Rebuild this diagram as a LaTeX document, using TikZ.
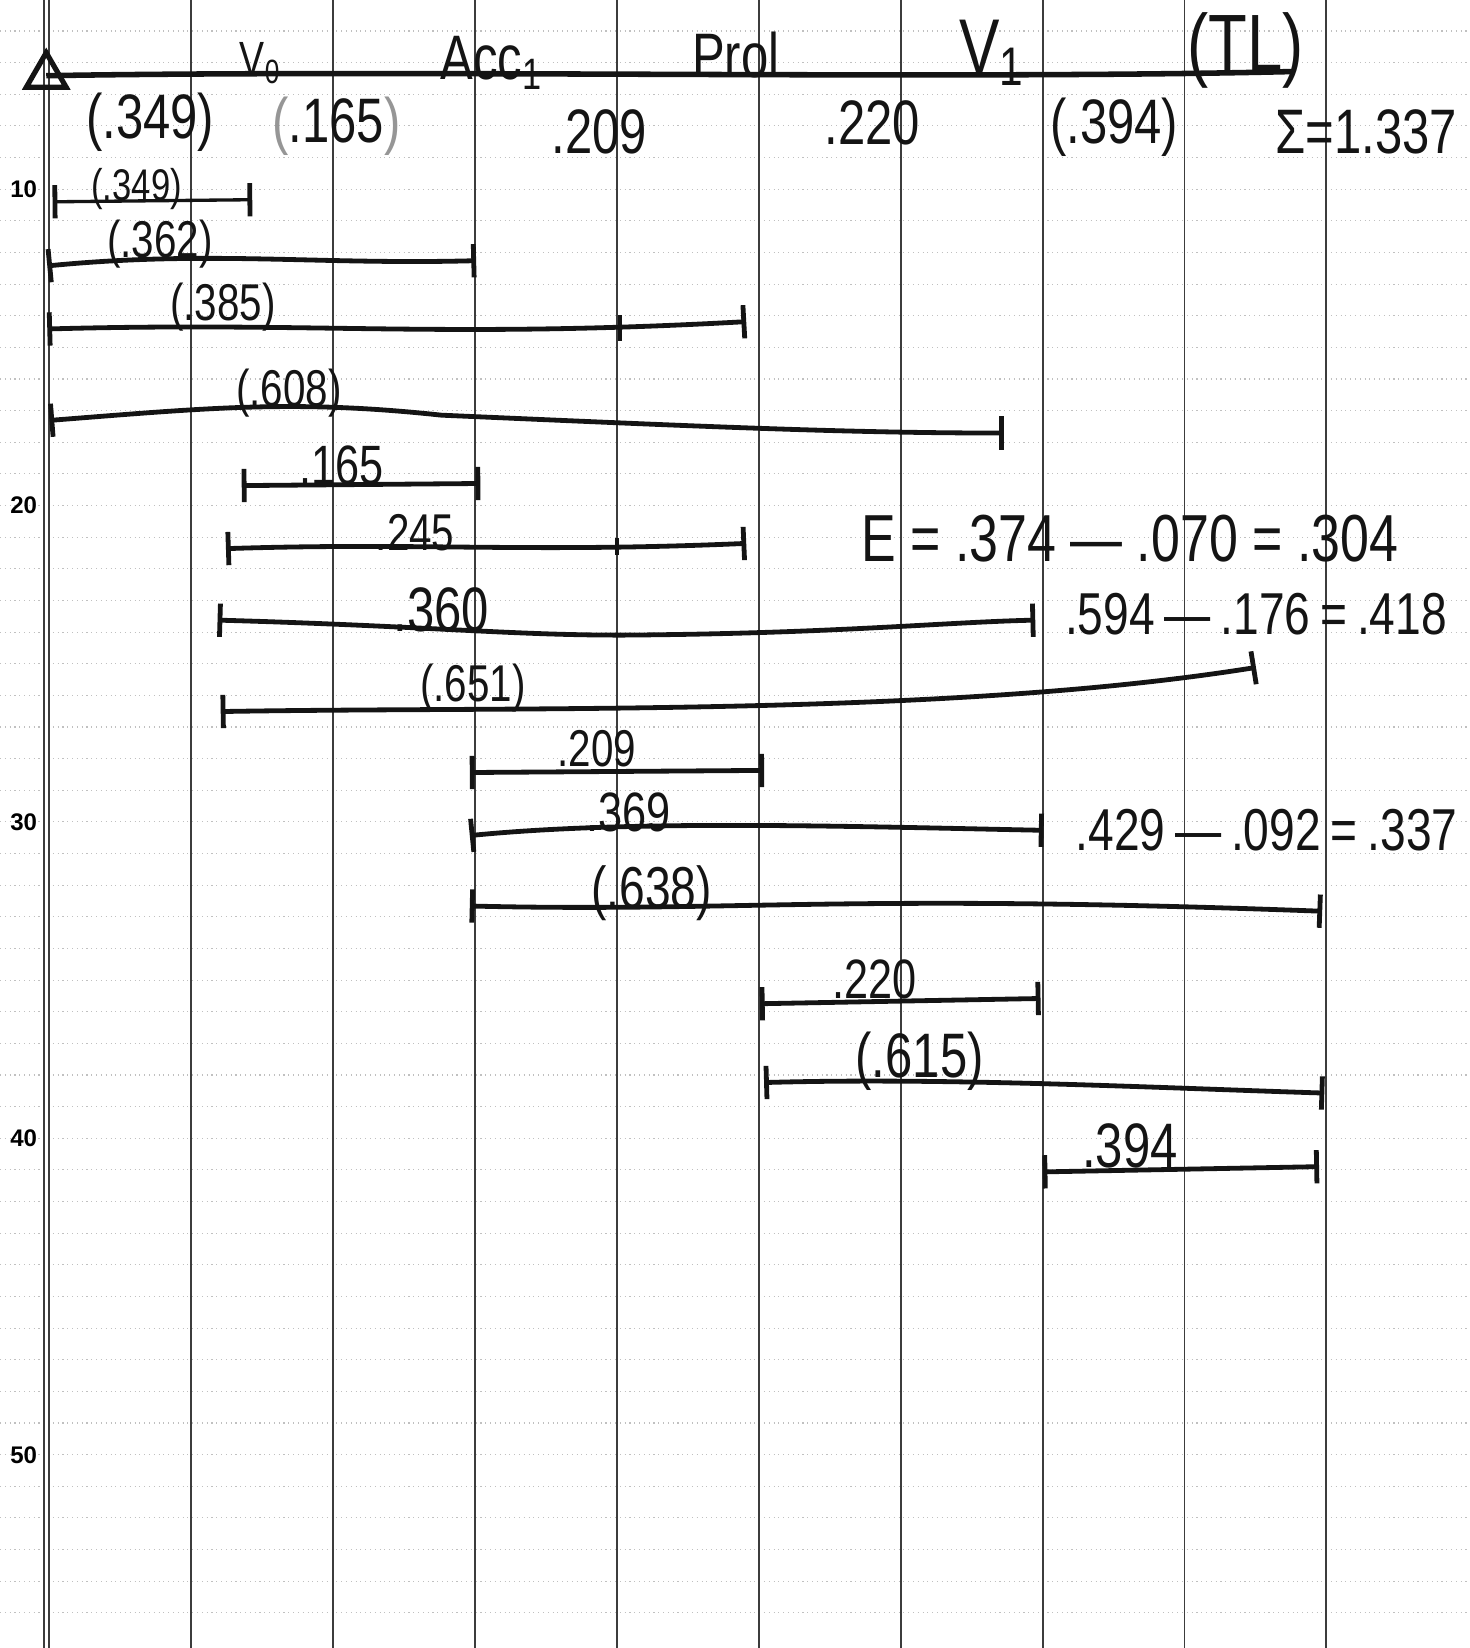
\documentclass[tikz,border=0pt]{standalone}
\usepackage{fontspec}
\setmainfont[FakeStretch=0.78]{Liberation Sans}
\setsansfont{Liberation Sans}
\definecolor{inkblack}{RGB}{20,20,20}
\definecolor{rulegray}{RGB}{150,150,150}
\definecolor{gridblack}{RGB}{60,60,60}
\usetikzlibrary{arrows.meta,positioning,shapes.geometric,calc}

\begin{document}
\begin{tikzpicture}[x=0.01cm, y=-0.01cm,
  span/.style={draw=inkblack, line width=1.3pt, {Bar[width=9pt,line width=1.3pt]}-{Bar[width=9pt,line width=1.3pt]}},
  val/.style={inner sep=1pt, text=inkblack, font=\fontsize{17}{17}\selectfont},
  lbl/.style={inner sep=1pt, text=inkblack, font=\fontsize{14}{14}\selectfont},
  eqn/.style={inner sep=1pt, text=inkblack, font=\fontsize{16}{16}\selectfont},
  rownum/.style={inner sep=0pt, font=\sffamily\fontsize{6.5}{6.5}\selectfont\bfseries}
]
  \useasboundingbox (0,0) rectangle (1398,1568);
  \fill[white] (0,0) rectangle (1398,1568);

  % ruled paper
  \foreach \r in {5,...,55}
    \draw[rulegray!60, densely dotted, line width=0.3pt] (0,{180+(\r-10)*30.1}) -- (1398,{180+(\r-10)*30.1});
  \foreach \c in {42,47}
    \draw[gridblack, line width=0.5pt] (\c,0) -- (\c,1568);
  \foreach \k in {0,...,8}
    \draw[gridblack, line width=0.5pt] ({182+135*\k},0) -- ({182+135*\k},1568);
  \foreach \r/\ry in {10/180,20/481,30/782,40/1083,50/1385}
    \node[rownum, anchor=east] (row\r) at (36,\ry) {\r};

  % time line
  \node[draw=inkblack, regular polygon, regular polygon sides=3, inner sep=2.2pt, line width=1.4pt] (origin) at (44,72) {};
  \coordinate (tlend) at (1232,68);
  \draw[inkblack, line width=1.5pt] (origin.center) .. controls (400,66) and (900,76) .. (tlend);
  \node[lbl, font=\fontsize{13}{13}\selectfont] (v0) at (248,60) {V\textsubscript{0}};
  \node[val] (acc) at (468,60) {Acc\textsubscript{1}};
  \node[val] (prol) at (700,52) {Prol};
  \node[val, font=\fontsize{21}{21}\selectfont] (v1) at (944,50) {V\textsubscript{1}};
  \node[val, font=\fontsize{22}{22}\selectfont] (tl) at (1185,48) {(TL)};

  % segment values
  \node[val] (s1) at (143,116) {(.349)};
  \node[val] (s2) at (320,120) {\textcolor{rulegray}{(}.165\textcolor{rulegray}{)}};
  \node[val] (s3) at (570,125) {.209};
  \node[val] (s4) at (830,117) {.220};
  \node[val] (s5) at (1060,121) {(.394)};
  \node[val] (sum) at (1300,125) {Σ=1.337};

  % spans from V0
  \coordinate (a1) at (50,192);  \coordinate (b1) at (240,190);
  \draw[span, line width=0.9pt] (a1) -- (b1);
  \node[lbl, font=\fontsize{12}{12}\selectfont] (n1) at (130,180) {(.349)};

  \coordinate (a2) at (45,253);  \coordinate (b2) at (453,248);
  \draw[span] (a2) .. controls (200,238) and (300,252) .. (b2);
  \node[lbl] (n2) at (152,232) {(.362)};

  \coordinate (a3) at (45,313);  \coordinate (b3) at (710,306);
  \draw[span] (a3) .. controls (300,306) and (420,322) .. (b3);
  \draw[inkblack, line width=0.9pt] (590,300) -- (590,324);
  \node[lbl] (n3) at (212,292) {(.385)};

  \coordinate (a4) at (47,400);  \coordinate (b4) at (955,412);
  \draw[span] (a4) .. controls (200,388) and (280,380) .. (420,395) .. controls (650,405) and (800,412) .. (b4);
  \node[lbl] (n4) at (275,374) {(.608)};

  % spans from end of V0
  \coordinate (a5) at (230,462); \coordinate (b5) at (457,460);
  \draw[span] (a5) -- (b5);
  \node[lbl, font=\fontsize{15}{15}\selectfont] (n5) at (325,443) {.165};

  \coordinate (a6) at (215,522); \coordinate (b6) at (710,517);
  \draw[span] (a6) .. controls (400,516) and (500,526) .. (b6);
  \draw[inkblack, line width=0.9pt] (587,512) -- (587,528);
  \node[lbl] (n6) at (395,507) {.245};

  \coordinate (a7) at (207,590); \coordinate (b7) at (985,590);
  \draw[span] (a7) .. controls (420,596) and (500,606) .. (620,604) .. controls (800,602) and (900,592) .. (b7);
  \node[lbl, font=\fontsize{17}{17}\selectfont] (n7) at (420,580) {.360};

  \coordinate (a8) at (210,677); \coordinate (b8) at (1195,635);
  \draw[span] (a8) .. controls (500,672) and (900,682) .. (b8);
  \node[lbl] (n8) at (450,655) {(.651)};

  % spans from end of Acc1
  \coordinate (a9) at (447,735); \coordinate (b9) at (727,733);
  \draw[span] (a9) -- (b9);
  \node[lbl] (n9) at (568,712) {.209};

  \coordinate (a10) at (447,795); \coordinate (b10) at (993,790);
  \draw[span] (a10) .. controls (600,780) and (800,786) .. (b10);
  \node[lbl, font=\fontsize{15}{15}\selectfont] (n10) at (598,773) {.369};

  \coordinate (a11) at (447,862); \coordinate (b11) at (1258,867);
  \draw[span] (a11) .. controls (700,868) and (800,850) .. (b11);
  \node[lbl, font=\fontsize{16}{16}\selectfont] (n11) at (620,850) {(.638)};

  % spans from end of Prol
  \coordinate (a12) at (723,955); \coordinate (b12) at (990,950);
  \draw[span] (a12) -- (b12);
  \node[lbl, font=\fontsize{15}{15}\selectfont] (n12) at (832,932) {.220};

  \coordinate (a13) at (727,1030); \coordinate (b13) at (1260,1040);
  \draw[span] (a13) .. controls (900,1025) and (1100,1035) .. (b13);
  \node[lbl, font=\fontsize{17}{17}\selectfont] (n13) at (875,1010) {(.615)};

  % span from V1
  \coordinate (a14) at (992,1115); \coordinate (b14) at (1255,1110);
  \draw[span] (a14) -- (b14);
  \node[lbl, font=\fontsize{17}{17}\selectfont] (n14) at (1075,1090) {.394};

  % results
  \node[eqn, font=\fontsize{18}{18}\selectfont] (eq1) at (1075,512) {E = .374 — .070 = .304};
  \node[eqn] (eq2) at (1195,584) {.594\,—\,.176\,=\,.418};
  \node[eqn] (eq3) at (1205,790) {.429\,—\,.092\,=\,.337};
\end{tikzpicture}
\end{document}
